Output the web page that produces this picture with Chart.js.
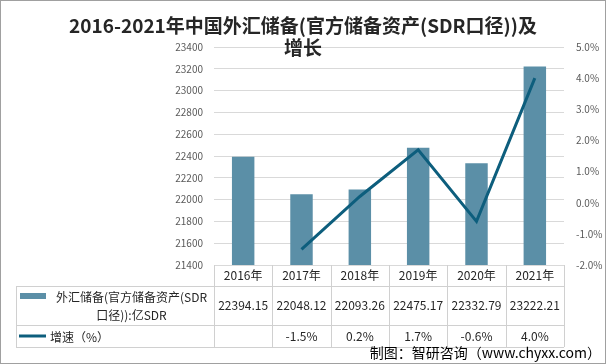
<!DOCTYPE html>
<html><head><meta charset="utf-8">
<script src="https://cdn.jsdelivr.net/npm/chart.js@4"></script>
<style>html,body{margin:0;padding:0;background:#fff;}canvas{display:block;}</style>
</head><body>
<canvas id="c" width="606" height="364"></canvas>
<script>
const years = ['2016年','2017年','2018年','2019年','2020年','2021年'];
const reserves = [22394.15, 22048.12, 22093.26, 22475.17, 22332.79, 23222.21];
const growth = [null, -1.5, 0.2, 1.7, -0.6, 4.0];
const titleLines = ['2016-2021年中国外汇储备(官方储备资产(SDR口径))及', '增长'];
const barNameLines = ['外汇储备(官方储备资产(SDR', '口径)):亿SDR'];
const lineName = '增速（%）';
const sourceText = '制图：智研咨询（www.chyxx.com）';

const FONT = '"Noto Sans CJK SC", "Noto Sans", sans-serif';
const BAR_COLOR = '#5B8FA7';
const LINE_COLOR = '#0D5E7D';

const tablePlugin = {
  id: 'tablePlugin',
  afterDraw(chart) {
    const ctx = chart.ctx;
    const xs = chart.scales.x;
    const ca = chart.chartArea;
    const n = years.length;
    const L = ca.left, R = ca.right, top = ca.bottom;
    const cw = (R - L) / n;
    const rowY = [top, top + 21, top + 60, top + 82];
    const px = v => Math.round(v) + 0.5;
    ctx.save();
    ctx.strokeStyle = '#D0D0D0';
    ctx.lineWidth = 1;
    const line = (x1, y1, x2, y2) => { ctx.beginPath(); ctx.moveTo(x1, y1); ctx.lineTo(x2, y2); ctx.stroke(); };
    for (let i = 1; i < rowY.length; i++) line(16, px(rowY[i]), R, px(rowY[i]));
    line(16.5, rowY[1], 16.5, rowY[3]);
    for (let i = 0; i <= n; i++) {
      const xv = px(L + i * cw);
      line(xv, top, xv, rowY[3]);
    }
    ctx.fillStyle = '#262626';
    ctx.font = '12px ' + FONT;
    ctx.textAlign = 'center';
    ctx.textBaseline = 'middle';
    for (let i = 0; i < n; i++) {
      const cx = xs.getPixelForValue(i);
      ctx.fillText(years[i], cx, (rowY[0] + rowY[1]) / 2);
      ctx.fillText(reserves[i].toFixed(2), cx, (rowY[1] + rowY[2]) / 2);
      if (growth[i] !== null) ctx.fillText(growth[i].toFixed(1) + '%', cx, (rowY[2] + rowY[3]) / 2);
    }
    ctx.fillStyle = BAR_COLOR;
    ctx.fillRect(20, 293, 26, 6);
    ctx.fillStyle = '#262626';
    ctx.fillText(barNameLines[0], 131.5, 297);
    ctx.fillText(barNameLines[1], 131.5, 315);
    ctx.strokeStyle = LINE_COLOR;
    ctx.lineWidth = 3;
    line(19, 336, 46, 336);
    ctx.textAlign = 'left';
    ctx.fillText(lineName, 50, 337);
    ctx.font = '14px ' + FONT;
    ctx.fillStyle = '#000';
    ctx.textAlign = 'right';
    ctx.fillText(sourceText, 601, 353);
    ctx.font = 'bold 19px ' + FONT;
    ctx.textAlign = 'center';
    ctx.fillStyle = '#262626';
    ctx.fillText(titleLines[0], 303, 26);
    ctx.fillText(titleLines[1], 303, 48);
    ctx.strokeStyle = '#A0A0A0';
    ctx.lineWidth = 1;
    ctx.strokeRect(0.5, 0.5, 605, 363);
    ctx.restore();
  }
};

new Chart(document.getElementById('c'), {
  data: {
    labels: years,
    datasets: [
      { type: 'line', label: lineName, data: growth, yAxisID: 'y1', borderColor: LINE_COLOR, borderWidth: 3, pointRadius: 0, tension: 0, order: 0 },
      { type: 'bar', label: barNameLines.join(''), data: reserves, yAxisID: 'y', backgroundColor: BAR_COLOR, categoryPercentage: 1, barPercentage: 0.385, order: 1 }
    ]
  },
  options: {
    responsive: false,
    animation: false,
    devicePixelRatio: 1,
    layout: { padding: { left: 0, right: 0, top: 47, bottom: 99 } },
    plugins: { legend: { display: false }, title: { display: false }, tooltip: { enabled: false } },
    scales: {
      x: { display: false },
      y: {
        position: 'left', min: 21400, max: 23400,
        ticks: { stepSize: 200, color: '#595959', font: { size: 10, family: FONT }, padding: 11, callback: v => String(v) },
        grid: { color: '#D9D9D9', drawTicks: false },
        border: { display: false },
        afterFit(s) { s.width = 214; }
      },
      y1: {
        position: 'right', min: -2, max: 5,
        ticks: { stepSize: 1, color: '#595959', font: { size: 10, family: FONT }, padding: 12, callback: v => v.toFixed(1) + '%' },
        grid: { display: false, drawTicks: false },
        border: { display: false },
        afterFit(s) { s.width = 42; }
      }
    }
  },
  plugins: [tablePlugin]
});
</script>
</body></html>
